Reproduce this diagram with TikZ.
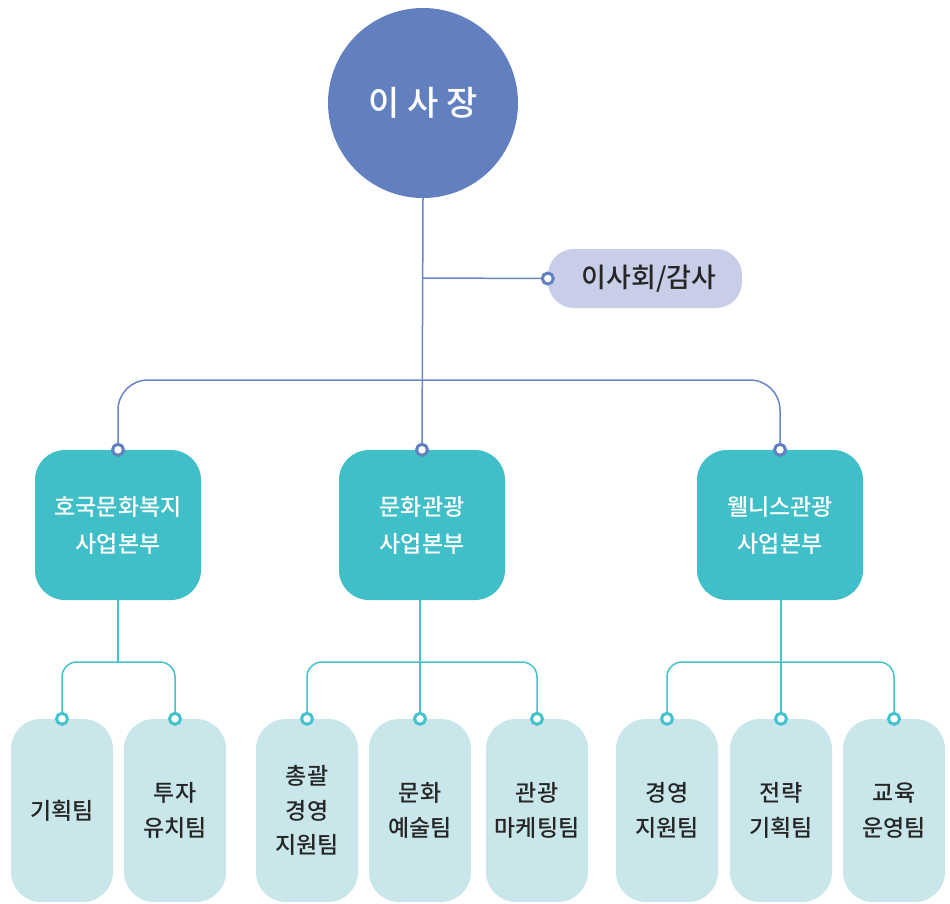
\documentclass[tikz,border=0pt]{standalone}
\usepackage{fontspec}
\setmainfont{Noto Sans CJK KR}[UprightFont=* Medium, BoldFont=* Bold]
\definecolor{ceo}{HTML}{6280BF}
\definecolor{pill}{HTML}{C9CEE8}
\definecolor{div}{HTML}{41BFC9}
\definecolor{team}{HTML}{C9E7EA}
\definecolor{bline}{HTML}{6A84C4}
\definecolor{tline}{HTML}{45C2CC}
\definecolor{ink}{HTML}{262626}
\tikzset{
  ceonode/.style={circle, fill=ceo, minimum size=190pt, inner sep=0pt, text=white, font=\fontsize{34}{38}\selectfont},
  pillnode/.style={rounded corners=26pt, fill=pill, minimum width=194pt, minimum height=59pt, inner sep=0pt, text=ink, font=\fontsize{27}{30}\selectfont},
  divnode/.style={rounded corners=30pt, fill=div, minimum width=166pt, minimum height=150pt, inner sep=0pt, text=white, align=center, font=\fontsize{23}{37}\selectfont},
  teamnode/.style={rounded corners=30pt, fill=team, minimum width=102pt, minimum height=183pt, inner sep=0pt, text=ink, align=center, font=\fontsize{23}{34.5}\selectfont},
  bconn/.style={draw=bline, line width=1.5pt},
  tconn/.style={draw=tline, line width=1.5pt},
  bdot/.style={circle, draw=ceo, fill=white, line width=3pt, minimum size=11pt, inner sep=0pt},
  tdot/.style={circle, draw=tline, fill=white, line width=3pt, minimum size=11pt, inner sep=0pt}
}
\begin{document}
\begin{tikzpicture}[x=1pt, y=-1pt]
\useasboundingbox (0,0) rectangle (950,903);
% nodes
\node[ceonode] (ceo) at (423,103) {이 사 장};
\node[pillnode] (board) at (645,278.5) {\hspace{8pt}이사회/감사};
\node[divnode] (d1) at (118,525) {호국문화복지\\사업본부};
\node[divnode] (d2) at (422,525) {문화관광\\사업본부};
\node[divnode] (d3) at (780,525) {웰니스관광\\사업본부};
\node[teamnode] (t1) at (62,810.5) {기획팀};
\node[teamnode] (t2) at (175,810.5) {투자\\유치팀};
\node[teamnode] (t3) at (307,810.5) {총괄\\경영\\지원팀};
\node[teamnode] (t4) at (420,810.5) {문화\\예술팀};
\node[teamnode] (t5) at (537,810.5) {관광\\마케팅팀};
\node[teamnode] (t6) at (667,810.5) {경영\\지원팀};
\node[teamnode] (t7) at (781,810.5) {전략\\기획팀};
\node[teamnode] (t8) at (894,810.5) {교육\\운영팀};
\coordinate (busA) at (0,380);
\coordinate (busB) at (0,662);
\coordinate (bj) at (0,278);
% connectors
\draw[bconn] (ceo.south) -- (d2.north);
\draw[bconn] (ceo.south |- bj) -- (board.west);
\draw[bconn, rounded corners=30pt] (d1.north) -- (d1.north |- busA) -- (d3.north |- busA) -- (d3.north);
\draw[tconn] (d1.south) -- (d1.south |- busB);
\draw[tconn, rounded corners=15pt] (t1.north) -- (t1.north |- busB) -- (t2.north |- busB) -- (t2.north);
\draw[tconn] (t4.north |- d2.south) -- (t4.north);
\draw[tconn, rounded corners=15pt] (t3.north) -- (t3.north |- busB) -- (t5.north |- busB) -- (t5.north);
\draw[tconn] (t7.north |- d3.south) -- (t7.north);
\draw[tconn, rounded corners=15pt] (t6.north) -- (t6.north |- busB) -- (t8.north |- busB) -- (t8.north);
% dots
\node[bdot] (db) at (board.west) {};
\node[bdot] (dd1) at (d1.north) {};
\node[bdot] (dd2) at (d2.north) {};
\node[bdot] (dd3) at (d3.north) {};
\node[tdot] (dt1) at (t1.north) {};
\node[tdot] (dt2) at (t2.north) {};
\node[tdot] (dt3) at (t3.north) {};
\node[tdot] (dt4) at (t4.north) {};
\node[tdot] (dt5) at (t5.north) {};
\node[tdot] (dt6) at (t6.north) {};
\node[tdot] (dt7) at (t7.north) {};
\node[tdot] (dt8) at (t8.north) {};
\end{tikzpicture}
\end{document}
